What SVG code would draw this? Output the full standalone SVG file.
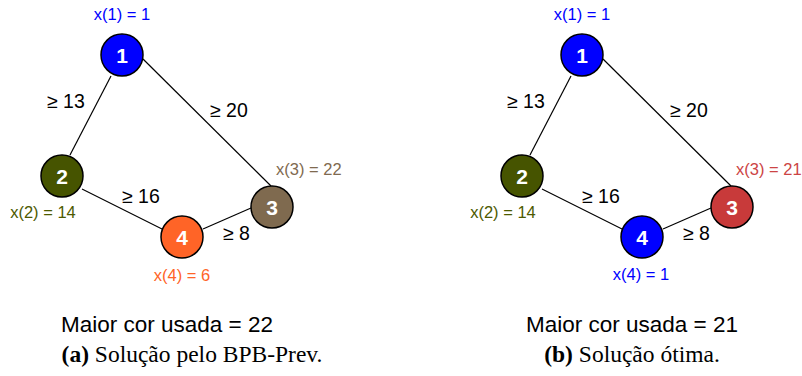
<svg xmlns="http://www.w3.org/2000/svg" width="802" height="376" viewBox="0 0 802 376">
  <style>
    .edge { stroke: #000; stroke-width: 1.2; fill: none; }
    .node { stroke: #000; stroke-width: 1.5; }
    .num { font-family: "Liberation Sans", Arial, sans-serif; font-size: 21px; font-weight: bold; fill: #fff; text-anchor: middle; }
    .elab { font-family: "Liberation Sans", Arial, sans-serif; font-size: 19.5px; fill: #000; }
    .xlab { font-family: "Liberation Sans", Arial, sans-serif; font-size: 16.5px; }
    .cost { font-family: "Liberation Sans", Arial, sans-serif; font-size: 22.5px; fill: #000; text-anchor: middle; }
    .cap { font-family: "Liberation Serif", "Times New Roman", serif; font-size: 23.5px; fill: #000; text-anchor: middle; }
  </style>

  <!-- left graph: heuristic solution -->
  <g id="panel-a">
    <g id="a-edges">
      <line class="edge" x1="111" y1="76" x2="70" y2="155"/>
      <line class="edge" x1="143" y1="59" x2="271" y2="186"/>
      <line class="edge" x1="82" y1="189" x2="162" y2="229"/>
      <line class="edge" x1="203" y1="229" x2="251" y2="208"/>
      <text class="elab" x="47" y="108">≥ 13</text>
      <text class="elab" x="210" y="117">≥ 20</text>
      <text class="elab" x="122" y="203">≥ 16</text>
      <text class="elab" x="223" y="240">≥ 8</text>
    </g>
    <g id="a-node1">
      <circle class="node" cx="122" cy="55" r="21" fill="#0000ff"/>
      <text class="num" x="122" y="62.5">1</text>
      <text class="xlab" x="122" y="20" fill="#0000ff" text-anchor="middle">x(1) = 1</text>
    </g>
    <g id="a-node2">
      <circle class="node" cx="62" cy="176" r="21" fill="#465400"/>
      <text class="num" x="62" y="183.5">2</text>
      <text class="xlab" x="43" y="218" fill="#4d5a00" text-anchor="middle">x(2) = 14</text>
    </g>
    <g id="a-node3">
      <circle class="node" cx="272" cy="207" r="21" fill="#7f6a4f"/>
      <text class="num" x="272" y="214.5">3</text>
      <text class="xlab" x="276" y="175" fill="#7f6a4f">x(3) = 22</text>
    </g>
    <g id="a-node4">
      <circle class="node" cx="182" cy="237" r="21" fill="#ff6427"/>
      <text class="num" x="182" y="244.5">4</text>
      <text class="xlab" x="182" y="281" fill="#ff6427" text-anchor="middle">x(4) = 6</text>
    </g>
    <text class="cost" x="167" y="332">Maior cor usada = 22</text>
    <text class="cap" x="192" y="362"><tspan font-weight="bold">(a)</tspan> Solução pelo BPB-Prev.</text>
  </g>

  <!-- right graph: optimal solution -->
  <g id="panel-b">
    <g id="b-edges">
      <line class="edge" x1="571" y1="76" x2="530" y2="155"/>
      <line class="edge" x1="603" y1="59" x2="731" y2="186"/>
      <line class="edge" x1="542" y1="189" x2="622" y2="229"/>
      <line class="edge" x1="663" y1="229" x2="711" y2="208"/>
      <text class="elab" x="507" y="108">≥ 13</text>
      <text class="elab" x="670" y="117">≥ 20</text>
      <text class="elab" x="582" y="203">≥ 16</text>
      <text class="elab" x="683" y="240">≥ 8</text>
    </g>
    <g id="b-node1">
      <circle class="node" cx="582" cy="55" r="21" fill="#0000ff"/>
      <text class="num" x="582" y="62.5">1</text>
      <text class="xlab" x="582" y="20" fill="#0000ff" text-anchor="middle">x(1) = 1</text>
    </g>
    <g id="b-node2">
      <circle class="node" cx="522" cy="176" r="21" fill="#465400"/>
      <text class="num" x="522" y="183.5">2</text>
      <text class="xlab" x="503" y="218" fill="#4d5a00" text-anchor="middle">x(2) = 14</text>
    </g>
    <g id="b-node3">
      <circle class="node" cx="732" cy="207" r="21" fill="#c83a3a"/>
      <text class="num" x="732" y="214.5">3</text>
      <text class="xlab" x="736" y="175" fill="#cc4444">x(3) = 21</text>
    </g>
    <g id="b-node4">
      <circle class="node" cx="642" cy="237" r="21" fill="#0000ff"/>
      <text class="num" x="642" y="244.5">4</text>
      <text class="xlab" x="641" y="280" fill="#0000ff" text-anchor="middle">x(4) = 1</text>
    </g>
    <text class="cost" x="632" y="332">Maior cor usada = 21</text>
    <text class="cap" x="632" y="362"><tspan font-weight="bold">(b)</tspan> Solução ótima.</text>
  </g>
</svg>
